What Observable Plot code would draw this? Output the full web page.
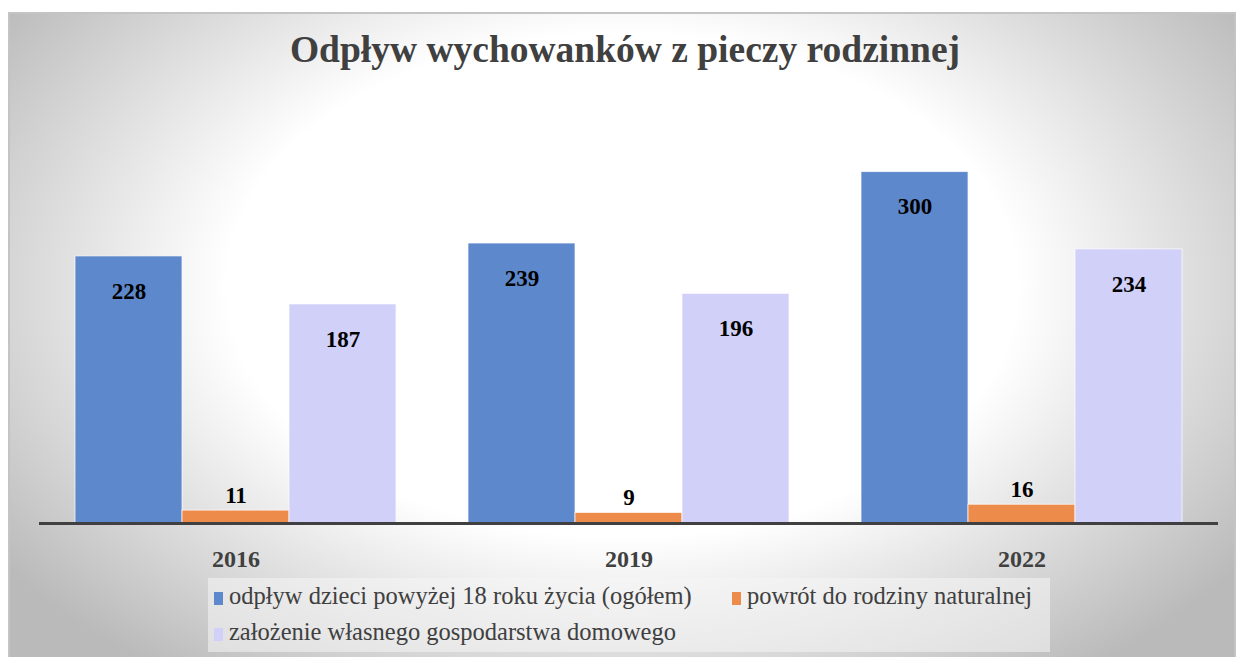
<!DOCTYPE html>
<html>
<head>
<meta charset="utf-8">
<script src="https://cdn.jsdelivr.net/npm/d3@7"></script>
<script src="https://cdn.jsdelivr.net/npm/@observablehq/plot@0.6"></script>
<style>
  html, body { margin: 0; padding: 0; background: #ffffff; }
  #wrap { position: relative; width: 1238px; height: 657px; overflow: hidden; background: #fff; }
  #frame {
    position: absolute; left: 8px; top: 12px; width: 1228px; height: 650px;
    border: 2px solid #c4c4c4; box-sizing: border-box;
    background: radial-gradient(ellipse 62% 75% at 50% 42%, #ffffff 52%, #bababa 100%);
  }
  #title {
    position: absolute; left: 0; width: 1250px; top: 29px; text-align: center;
    font-family: "Liberation Serif", "Times New Roman", serif; font-weight: bold;
    font-size: 37.5px; line-height: 42px; color: #404040;
  }
  #chart { position: absolute; left: 0; top: 0; }
  #legend {
    position: absolute; left: 208px; top: 578px; width: 842px; height: 74px;
    background: rgba(245,245,245,0.55);
    font-family: "Liberation Serif", "Times New Roman", serif; font-size: 24.5px; color: #404040;
  }
  .item { position: absolute; white-space: nowrap; line-height: 26px; }
  .sw { display: inline-block; width: 9px; height: 13px; margin-right: 6px; vertical-align: -1px; }
  g[aria-label="fx-axis tick label"] text { font-size: 24px; font-weight: bold; }
</style>
</head>
<body>
<div id="wrap">
  <div id="frame"></div>
  <div id="title">Odpływ wychowanków z pieczy rodzinnej</div>
  <div id="chart"></div>
  <div id="legend"></div>
</div>
<script>
const years = ["2016", "2019", "2022"];
const series = [
  "odpływ dzieci powyżej 18 roku życia (ogółem)",
  "powrót do rodziny naturalnej",
  "założenie własnego gospodarstwa domowego"
];
const odplywOgolem = [228, 239, 300];
const powrotDoRodziny = [11, 9, 16];
const zalozenieGospodarstwa = [187, 196, 234];
const colors = ["#5E88CC", "#EC8B4A", "#D0D0F8"];

const valuesBySeries = [odplywOgolem, powrotDoRodziny, zalozenieGospodarstwa];
const data = years.flatMap((y, i) =>
  series.map((s, j) => ({ year: y, series: s, value: valuesBySeries[j][i] }))
);

const chart = Plot.plot({
  width: 1238,
  height: 575,
  marginTop: 113,
  marginBottom: 52,
  marginLeft: 38,
  marginRight: 20,
  style: { background: "transparent", fontFamily: "Liberation Serif, Times New Roman, serif", overflow: "visible" },
  fx: { domain: years, padding: 0, label: null },
  x: { domain: series, axis: null, paddingInner: 0, paddingOuter: 0.33 },
  y: { domain: [0, 350], axis: null },
  color: { domain: series, range: colors },
  marks: [
    Plot.barY(data, { fx: "year", x: "series", y: "value", fill: "series", stroke: "#ffffff", strokeWidth: 1, strokeOpacity: 0.7 }),
    Plot.ruleY([0], { stroke: "#404040", strokeWidth: 3 }),
    Plot.text(data.filter(d => d.series !== series[1]), {
      fx: "year", x: "series", y: "value", text: d => String(d.value),
      dy: 35, fontSize: 23, fontWeight: "bold", fill: "#000000"
    }),
    Plot.text(data.filter(d => d.series === series[1]), {
      fx: "year", x: "series", y: "value", text: d => String(d.value),
      dy: -15, fontSize: 23, fontWeight: "bold", fill: "#000000"
    }),
    Plot.axisFx({ anchor: "bottom", tickSize: 0, tickPadding: 26, fontSize: 24, fontWeight: "bold", fill: "#404040", label: null })
  ]
});
document.getElementById("chart").appendChild(chart);

const legend = document.getElementById("legend");
const positions = [
  { left: 6, top: 5 },
  { left: 524, top: 5 },
  { left: 6, top: 41 }
];
series.forEach((s, j) => {
  const it = document.createElement("div");
  it.className = "item";
  it.style.left = positions[j].left + "px";
  it.style.top = positions[j].top + "px";
  const sw = document.createElement("span");
  sw.className = "sw";
  sw.style.background = colors[j];
  it.appendChild(sw);
  it.appendChild(document.createTextNode(s));
  legend.appendChild(it);
});
</script>
</body>
</html>
